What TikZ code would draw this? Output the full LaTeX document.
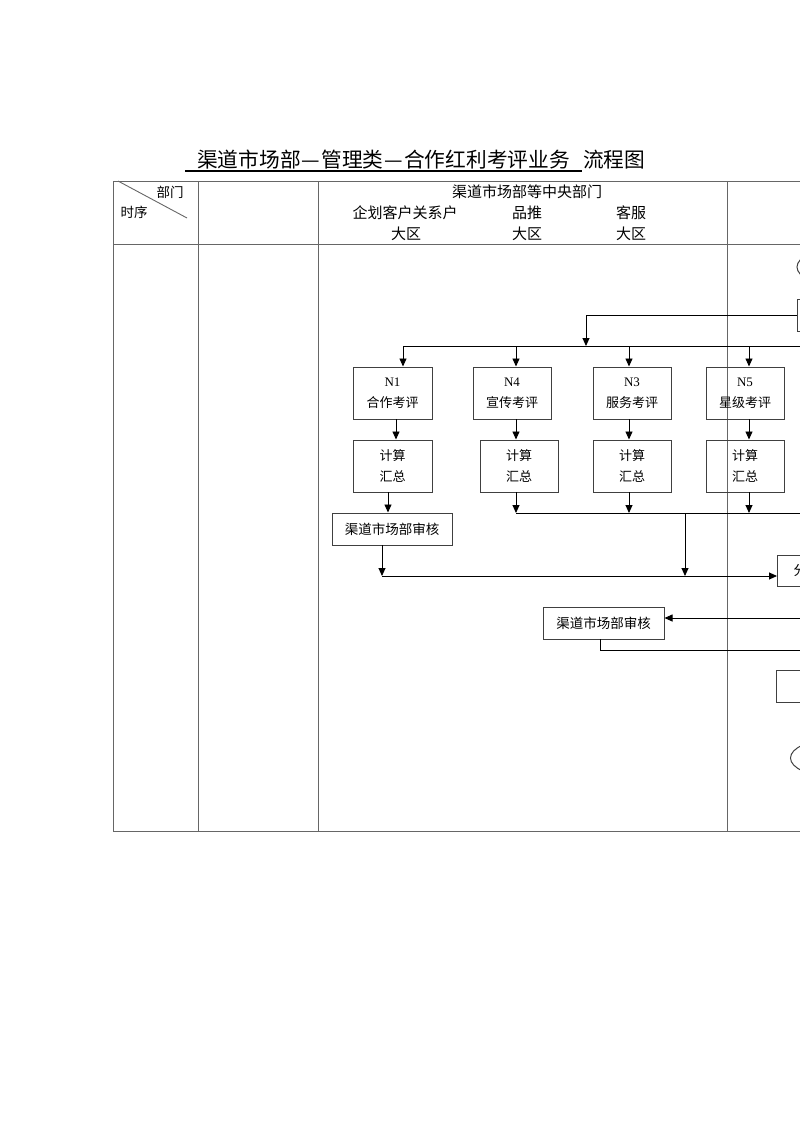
\documentclass[tikz,border=0pt]{standalone}
\usepackage{fontspec}
\setmainfont{Liberation Serif}
\newfontfamily\cjk{Noto Sans CJK SC}
\usetikzlibrary{arrows.meta,shapes.geometric}
\newcommand{\fwdash}{\makebox[1em]{—}}
\tikzset{
  grid/.style={draw=black!60, line width=0.9pt},
  flow/.style={draw=black, line width=0.9pt},
  arr/.style={flow, -{Triangle[length=8pt,width=7pt]}},
  box/.style={draw=black!75, line width=1pt, rectangle, inner sep=0pt, align=center, font=\fontsize{13}{21}\selectfont},
  hdr/.style={font=\cjk\fontsize{15}{18}\selectfont, inner sep=0pt},
  ttl/.style={font=\cjk\fontsize{20.7}{24}\selectfont, inner sep=0pt, anchor=west},
  oval/.style={draw=black!75, line width=1pt, ellipse, minimum width=80pt, minimum height=36pt}
}
\begin{document}
\begin{tikzpicture}[x=1pt,y=-1pt]
\useasboundingbox (0,0) rectangle (800,1132);
\clip (0,0) rectangle (800,1132);
% title
\node[ttl] (title) at (197,160) {渠道市场部\fwdash 管理类\fwdash 合作红利考评业务};
\node[ttl] (title2) at (583,160) {流程图};
\coordinate (ul0) at (185,171);
\coordinate (ul1) at (582,171);
\draw[line width=1.3pt] (ul0) -- (ul1);
% table
\draw[grid] (113,181) -- (820,181);
\draw[grid] (113,244) -- (820,244);
\draw[grid] (113,831) -- (820,831);
\foreach \x in {113,198,318,727} \draw[grid] (\x,181) -- (\x,831);
\draw[grid] (118,181) -- (187,218);
\node[hdr, font=\cjk\fontsize{13.5}{16}\selectfont] (dept) at (170,192) {部门};
\node[hdr, font=\cjk\fontsize{13.5}{16}\selectfont] (seq) at (134,212) {时序};
\node[hdr] (lane) at (527,192) {渠道市场部等中央部门};
\node[hdr] (l1) at (405,213) {企划客户关系户};
\node[hdr] (l2) at (527,213) {品推};
\node[hdr] (l3) at (631,213) {客服};
\node[hdr] (d1) at (406,234) {大区};
\node[hdr] (d2) at (527,234) {大区};
\node[hdr] (d3) at (631,234) {大区};
% right-edge partial shapes
\node[oval] (start) at (837,267) {};
\node[box, minimum width=100pt, minimum height=32pt, anchor=west] (top) at (797,315) {};
% evaluation boxes
\node[box, minimum width=79pt, minimum height=52pt] (N1) at (392.5,393) {N1\\{\cjk 合作考评}};
\node[box, minimum width=78pt, minimum height=52pt] (N4) at (512,393) {N4\\{\cjk 宣传考评}};
\node[box, minimum width=78pt, minimum height=52pt] (N3) at (632,393) {N3\\{\cjk 服务考评}};
\node[box, minimum width=78pt, minimum height=52pt] (N5) at (745,393) {N5\\{\cjk 星级考评}};
\node[box, minimum width=79pt, minimum height=52pt] (C1) at (392.5,466) {{\cjk 计算}\\{\cjk 汇总}};
\node[box, minimum width=78pt, minimum height=52pt] (C4) at (519,466) {{\cjk 计算}\\{\cjk 汇总}};
\node[box, minimum width=78pt, minimum height=52pt] (C3) at (632,466) {{\cjk 计算}\\{\cjk 汇总}};
\node[box, minimum width=78pt, minimum height=52pt] (C5) at (745,466) {{\cjk 计算}\\{\cjk 汇总}};
\node[box, minimum width=120pt, minimum height=32pt, font=\cjk\fontsize{13.5}{16}\selectfont] (R1) at (392,529) {渠道市场部审核};
\node[box, minimum width=121pt, minimum height=32pt, font=\cjk\fontsize{13.5}{16}\selectfont] (R2) at (603.5,623) {渠道市场部审核};
\node[box, minimum height=31pt, anchor=west, text width=70pt, align=left, inner xsep=16pt, font=\cjk\fontsize{13.5}{16}\selectfont] (F) at (777,571) {分};
\node[box, minimum width=100pt, minimum height=32pt, anchor=west] (G) at (776,686) {};
\node[oval, anchor=west] (end) at (790,758) {};
% junction coordinates
\coordinate (t1) at (586,315);
\coordinate (b0) at (586,346);
\coordinate (b1) at (403,346);
\coordinate (bR) at (820,346);
\coordinate (b4) at (516,346);
\coordinate (b3) at (629,346);
\coordinate (b5) at (749,346);
\coordinate (s1) at (396,419);
\coordinate (s4) at (516,419);
\coordinate (s3) at (629,419);
\coordinate (s5) at (749,419);
\coordinate (u1) at (388,492);
\coordinate (u4) at (516,492);
\coordinate (u3) at (629,492);
\coordinate (u5) at (749,492);
\coordinate (m4) at (516,513);
\coordinate (mR) at (820,513);
\coordinate (mj) at (685,513);
\coordinate (r1) at (382,545);
\coordinate (q1) at (382,576);
\coordinate (qj) at (685,576);
\coordinate (rin) at (820,618);
\coordinate (r2) at (600,639);
\coordinate (r2b) at (600,650);
\coordinate (r2R) at (820,650);
% connectors
\draw[flow] (top.west) -- (t1);
\draw[arr] (t1) -- (b0);
\draw[flow] (b1) -- (bR);
\draw[arr] (b1) -- (b1 |- N1.north);
\draw[arr] (b4) -- (b4 |- N4.north);
\draw[arr] (b3) -- (b3 |- N3.north);
\draw[arr] (b5) -- (b5 |- N5.north);
\draw[arr] (s1) -- (s1 |- C1.north);
\draw[arr] (s4) -- (s4 |- C4.north);
\draw[arr] (s3) -- (s3 |- C3.north);
\draw[arr] (s5) -- (s5 |- C5.north);
\draw[arr] (u1) -- (u1 |- R1.north);
\draw[arr] (u4) -- (m4);
\draw[arr] (u3) -- (u3 |- m4);
\draw[arr] (u5) -- (u5 |- m4);
\draw[flow] (m4) -- (mR);
\draw[arr] (mj) -- (qj);
\draw[arr] (r1) -- (q1);
\draw[arr] (q1) -- (F.west |- q1);
\draw[arr] (rin) -- (R2.east |- rin);
\draw[flow] (r2) -- (r2b) -- (r2R);
\end{tikzpicture}
\end{document}
